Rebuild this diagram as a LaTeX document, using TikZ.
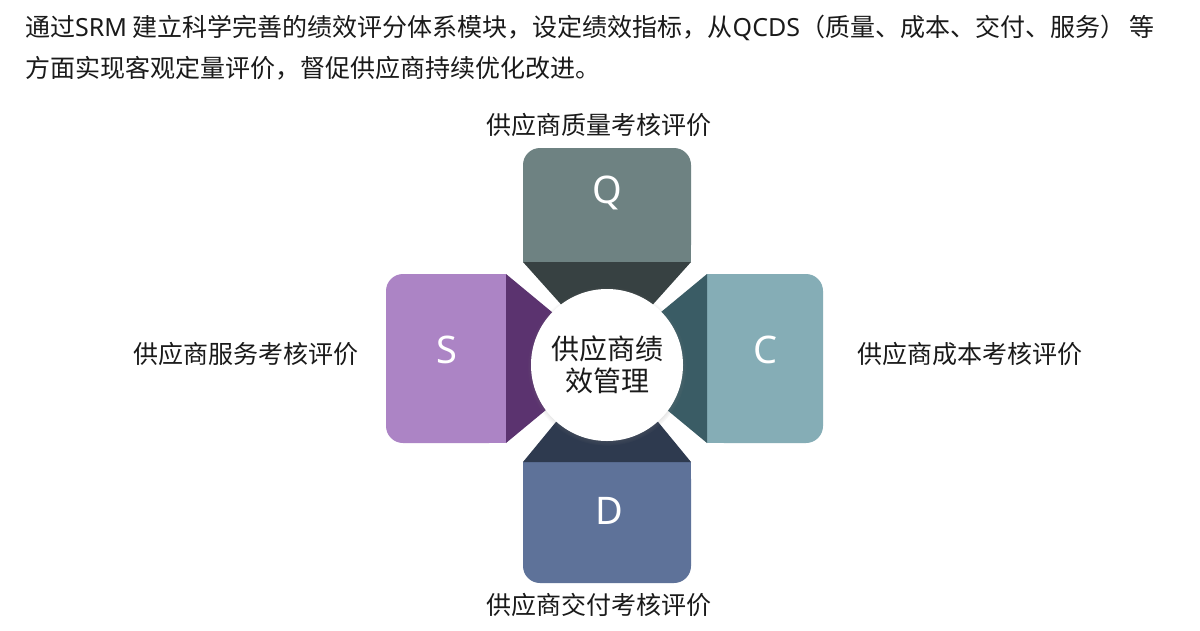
\documentclass[tikz,border=0pt]{standalone}
\usepackage{fontspec}
\setmainfont{Noto Sans CJK SC}
\newfontfamily\latinsans{Noto Sans}
\usetikzlibrary{shadows}
\definecolor{qlight}{HTML}{6E8282}
\definecolor{qdark}{HTML}{374142}
\definecolor{clight}{HTML}{85ADB6}
\definecolor{cdark}{HTML}{3A5C65}
\definecolor{slight}{HTML}{AC84C5}
\definecolor{sdark}{HTML}{5B336F}
\definecolor{dlight}{HTML}{5E7299}
\definecolor{ddark}{HTML}{2E3A4F}
\definecolor{txtc}{HTML}{1A1A1A}
\begin{document}
\begin{tikzpicture}[x=1pt,y=-1pt,
  txt/.style={inner sep=0pt, text=txtc, font=\fontsize{25pt}{30pt}\selectfont},
  letter/.style={inner sep=0pt, text=white, font=\latinsans\fontsize{38pt}{40pt}\selectfont},
  hubstyle/.style={circle, fill=white, minimum size=152pt, inner sep=0pt, align=center,
    text=txtc, font=\fontsize{28pt}{32pt}\selectfont,
    circular drop shadow={shadow scale=1.05, shadow xshift=0pt, shadow yshift=-1pt, opacity=0.45}}]
\useasboundingbox (0,0) rectangle (1200,630);
\fill[white] (0,0) rectangle (1200,630);

% title
\node[txt, anchor=west] (t1) at (25,28) {通过{\latinsans SRM} 建立科学完善的绩效评分体系模块，设定绩效指标，从{\latinsans QCDS}（质量、成本、交付、服务）\hspace{4pt}等};
\node[txt, anchor=west] (t2) at (25,68) {方面实现客观定量评价，督促供应商持续优化改进。};

% Q arm
\fill[qlight, rounded corners=17pt] (523,148) rectangle (691,262);
\fill[qlight] (523,230) rectangle (691,262);
\fill[qdark] (523,262) -- (691,262) -- (630,330) -- (584,330) -- cycle;
% D arm
\fill[dlight, rounded corners=17pt] (523,462) rectangle (691,583);
\fill[dlight] (523,462) rectangle (691,500);
\fill[ddark] (523,462) -- (691,462) -- (640,400) -- (574,400) -- cycle;
% S arm
\fill[slight, rounded corners=17pt] (386,274) rectangle (506,443);
\fill[slight] (470,274) rectangle (506,443);
\fill[sdark] (506,274) -- (570,327) -- (570,390) -- (506,443) -- cycle;
% C arm
\fill[clight, rounded corners=17pt] (707,274) rectangle (823,443);
\fill[clight] (707,274) rectangle (740,443);
\fill[cdark] (707,274) -- (643,327) -- (643,390) -- (707,443) -- cycle;

% letters
\node[letter] (lq) at (607,193) {Q};
\node[letter] (ls) at (447,350) {S};
\node[letter] (lc) at (766,350) {C};
\node[letter] (ld) at (609,511) {D};

% hub
\node[hubstyle] (hub) at (607,365) {供应商绩\\效管理};

% labels
\node[txt] (labq) at (599,125) {供应商质量考核评价};
\node[txt] (labs) at (246,354) {供应商服务考核评价};
\node[txt] (labc) at (970,354) {供应商成本考核评价};
\node[txt] (labd) at (599,605) {供应商交付考核评价};
\end{tikzpicture}
\end{document}
